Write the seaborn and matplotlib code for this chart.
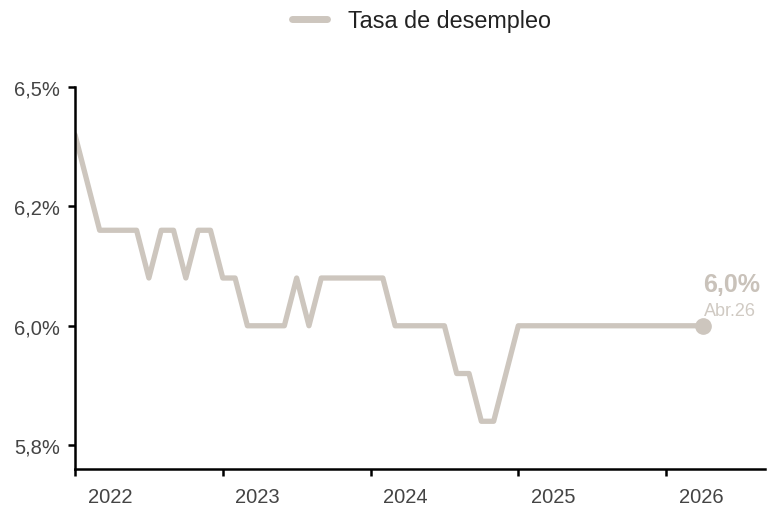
import numpy as np
import matplotlib
matplotlib.use("Agg")
import matplotlib.pyplot as plt
import matplotlib.transforms as mtrans
import pandas as pnd
import seaborn as sea

# Monthly unemployment rate, Jan 2022 .. Apr 2026
months = pnd.date_range("2022-01-01", "2026-04-01", freq="MS")
rate = [6.4, 6.3, 6.2, 6.2, 6.2, 6.2, 6.1, 6.2, 6.2, 6.1, 6.2, 6.2,
        6.1, 6.1, 6.0, 6.0, 6.0, 6.0, 6.1, 6.0, 6.1, 6.1, 6.1, 6.1,
        6.1, 6.1, 6.0, 6.0, 6.0, 6.0, 6.0, 5.9, 5.9, 5.8, 5.8, 5.9,
        6.0, 6.0, 6.0, 6.0, 6.0, 6.0, 6.0, 6.0, 6.0, 6.0, 6.0, 6.0,
        6.0, 6.0, 6.0, 6.0]
year_labels = ["2022", "2023", "2024", "2025", "2026"]
y_ticks = [5.75, 6.0, 6.25, 6.5]
serie = "Tasa de desempleo"
last_label = "Abr.26"

df = pnd.DataFrame({"mes": np.arange(len(months)), serie: rate})

col = "#cdc6be"
sea.set_style("white")
plt.rcParams["font.family"] = ["Liberation Sans", "DejaVu Sans"]

fig = plt.figure(figsize=(7.67, 5.06), dpi=100)
ax = fig.add_axes([0.0978, 0.0711, 0.899, 0.755])

sea.lineplot(data=df, x="mes", y=serie, color=col, linewidth=3.8,
             label=serie, ax=ax)
ax.plot(df["mes"].iloc[-1], df[serie].iloc[-1], "o", color=col,
        markersize=11, zorder=5)

# end-of-series labels
last = df[serie].iloc[-1]
ax.annotate(f"{last:.1f}%".replace(".", ","), (df["mes"].iloc[-1], last),
            xytext=(41, 30), textcoords="offset points", ha="right",
            va="center", fontsize=18, fontweight="bold", color="#c9c2ba")
ax.annotate(last_label, (df["mes"].iloc[-1], last),
            xytext=(38, 11), textcoords="offset points", ha="right",
            va="center", fontsize=13, color="#d0cac3")

ax.set_xlim(0, 56)
ax.set_ylim(5.70, 6.5)
ax.set_xticks(np.arange(len(year_labels)) * 12)
ax.set_xticklabels(year_labels)
ax.set_yticks(y_ticks)
ax.set_yticklabels([f"{v:.1f}%".replace(".", ",") for v in y_ticks])
ax.set_xlabel("")
ax.set_ylabel("")

for s in ["top", "right"]:
    ax.spines[s].set_visible(False)
for s in ["left", "bottom"]:
    ax.spines[s].set_color("black")
    ax.spines[s].set_linewidth(1.8)
ax.tick_params(axis="both", length=5, width=1.8, color="black",
               labelsize=14.5, labelcolor="#444444", direction="out",
               bottom=True, left=True)
ax.tick_params(axis="x", pad=8)
ax.tick_params(axis="y", pad=6)

# shift year labels to the right of their tick
shift = mtrans.ScaledTranslation(0.35, 0, fig.dpi_scale_trans)
for lab in ax.get_xticklabels():
    lab.set_transform(lab.get_transform() + shift)

leg = ax.legend(loc="center", bbox_to_anchor=(0.549, 0.958),
                bbox_transform=fig.transFigure, frameon=False,
                fontsize=16.8, handlelength=1.5, handletextpad=0.9)
for t in leg.get_texts():
    t.set_color("#222222")
for h in leg.get_lines():
    h.set_linewidth(5)

fig.savefig("out.png", dpi=100)
